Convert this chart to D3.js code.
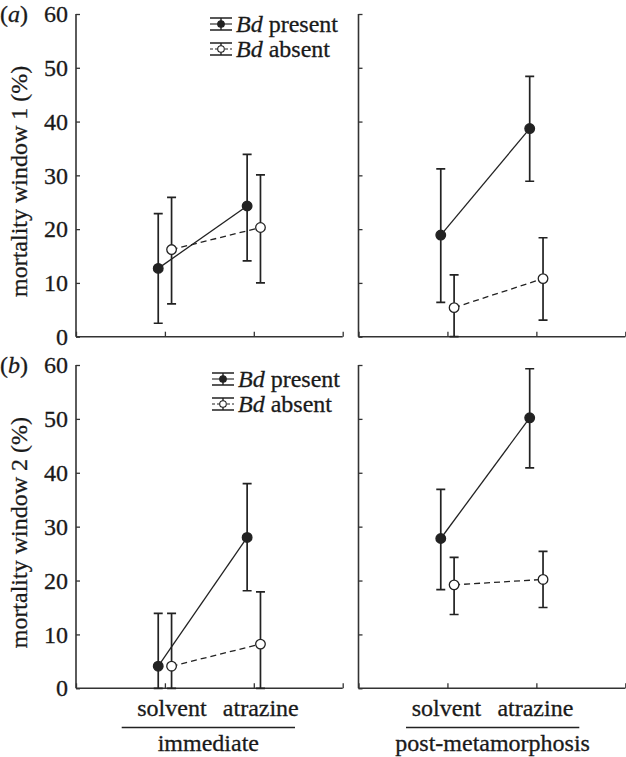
<!DOCTYPE html>
<html>
<head>
<meta charset="utf-8">
<script src="https://cdn.jsdelivr.net/npm/d3@7"></script>
<style>
html,body{margin:0;padding:0;background:#fff;}
svg{display:block;}
text{font-family:"Liberation Serif","Times New Roman",serif;fill:#1a1a1a;stroke:#1a1a1a;stroke-width:0.3;}
</style>
</head>
<body>
<svg id="chart" width="626" height="757"></svg>
<script>
// ---- data ----
const treatments = ["solvent", "atrazine"];
const timings = ["immediate", "post-metamorphosis"];
const panelLabels = ["(a)", "(b)"];
const yLabels = ["mortality window 1 (%)", "mortality window 2 (%)"];
const yTicks = [0, 10, 20, 30, 40, 50, 60];
const seriesNames = ["Bd present", "Bd absent"];
// order: [immediate solvent, immediate atrazine, post solvent, post atrazine]
const w1PresentMean = [12.7, 24.3, 18.9, 38.7];
const w1PresentLow  = [2.5, 14.1, 6.4, 28.9];
const w1PresentHigh = [22.9, 33.9, 31.2, 48.4];
const w1AbsentMean  = [16.2, 20.3, 5.4, 10.8];
const w1AbsentLow   = [6.1, 10.0, 0.0, 3.1];
const w1AbsentHigh  = [25.9, 30.1, 11.5, 18.4];
const w2PresentMean = [4.1, 28.0, 27.8, 50.2];
const w2PresentLow  = [0.0, 18.1, 18.3, 40.9];
const w2PresentHigh = [13.9, 38.0, 36.9, 59.3];
const w2AbsentMean  = [4.1, 8.2, 19.2, 20.2];
const w2AbsentLow   = [0.0, 0.0, 13.7, 15.0];
const w2AbsentHigh  = [13.9, 17.9, 24.3, 25.4];

const rows = [
  {present:{m:w1PresentMean,lo:w1PresentLow,hi:w1PresentHigh}, absent:{m:w1AbsentMean,lo:w1AbsentLow,hi:w1AbsentHigh}},
  {present:{m:w2PresentMean,lo:w2PresentLow,hi:w2PresentHigh}, absent:{m:w2AbsentMean,lo:w2AbsentLow,hi:w2AbsentHigh}}
];

// ---- layout ----
const svg = d3.select("#chart");
const FS = 24;
const colX = [[76, 342.7], [358.5, 625.3]];
const rowY = [[336.7, 14], [688.3, 365]];
const legendPos = [{x: 210, y1: 24, y2: 49}, {x: 212, y1: 379, y2: 404}];
const off = 0.075;
const ink = "#222";
const axisInk = "#333";

rows.forEach((row, r) => {
  const y = d3.scaleLinear().domain([0, 60]).range(rowY[r]);
  timings.forEach((tm, c) => {
    const x = d3.scaleLinear().domain([0, 3]).range(colX[c]);
    const g = svg.append("g");
    // y axis (ticks inward)
    const yAx = d3.axisRight(y).tickValues(yTicks).tickSize(4).tickFormat("");
    const gy = g.append("g").attr("transform", `translate(${colX[c][0]},0)`).call(yAx);
    // x axis (ticks inward)
    const xAx = d3.axisTop(x).tickValues([0, 1, 2, 3]).tickSize(5).tickFormat("");
    const gx = g.append("g").attr("transform", `translate(0,${rowY[r][0]})`).call(xAx);
    [gy, gx].forEach(a => {
      a.select(".domain").attr("stroke", axisInk).attr("stroke-width", 1.6);
      a.selectAll(".tick line").attr("stroke", axisInk).attr("stroke-width", 1.3);
    });
    gy.select(".domain").attr("d", `M0,${rowY[r][0]}V${rowY[r][1]}`);
    gx.select(".domain").attr("d", `M${colX[c][0]},0H${colX[c][1]}`);
    if (c === 0) {
      g.selectAll(".ylab").data(yTicks).enter().append("text")
        .attr("x", 68).attr("y", d => y(d)).attr("dy", "0.34em")
        .attr("text-anchor", "end").attr("font-size", FS).text(d => d);
    }
    // series
    [["present", "none", ink, -off], ["absent", "6,4", "#fff", off]].forEach(([key, dash, fill, dx]) => {
      const s = row[key];
      const idx = [c * 2, c * 2 + 1];
      const pts = idx.map((k, i) => ({x: x(i + 1 + dx), m: y(s.m[k]), lo: y(s.lo[k]), hi: y(s.hi[k])}));
      g.append("path")
        .attr("d", d3.line().x(d => d.x).y(d => d.m)(pts))
        .attr("fill", "none").attr("stroke", ink).attr("stroke-width", 1.3)
        .attr("stroke-dasharray", dash);
      pts.forEach(p => {
        g.append("path")
          .attr("d", `M${p.x},${p.lo}V${p.hi}M${p.x - 4.5},${p.lo}H${p.x + 4.5}M${p.x - 4.5},${p.hi}H${p.x + 4.5}`)
          .attr("stroke", ink).attr("stroke-width", 1.7).attr("fill", "none");
        g.append("circle").attr("cx", p.x).attr("cy", p.m).attr("r", 4.8)
          .attr("fill", fill).attr("stroke", ink).attr("stroke-width", 1.3);
      });
    });
    // category labels (bottom row only)
    if (r === 1) {
      const labOff = c === 0 ? 7 : -1;
      g.selectAll(".xl").data(treatments).enter().append("text")
        .attr("x", (d, i) => x(i + 1) + labOff).attr("y", 716)
        .attr("text-anchor", "middle").attr("font-size", FS).text(d => d);
      const lineX = c === 0 ? [121.7, 295] : [406, 579.3];
      g.append("line").attr("x1", lineX[0]).attr("x2", lineX[1]).attr("y1", 727.5).attr("y2", 727.5)
        .attr("stroke", ink).attr("stroke-width", 1.5);
      g.append("text").attr("x", (lineX[0] + lineX[1]) / 2).attr("y", 751)
        .attr("text-anchor", "middle").attr("font-size", FS).text(tm);
    }
  });
  // panel label + y label
  svg.append("text").attr("x", 0).attr("y", rowY[r][1]).attr("dy", "0.34em")
    .attr("font-size", FS).text(panelLabels[r].slice(0, 1))
    .append("tspan").attr("font-style", "italic").text(panelLabels[r].slice(1, 2))
    .select(function () { return this.parentNode; })
    .append("tspan").text(")");
  svg.append("text")
    .attr("transform", `translate(27,${(rowY[r][0] + rowY[r][1]) / 2 + 6}) rotate(-90)`)
    .attr("text-anchor", "middle").attr("font-size", FS).text(yLabels[r]);
  // legend
  const L = legendPos[r];
  [[L.y1, "none", ink], [L.y2, "3,2", "#fff"]].forEach(([ly, dash, fill], i) => {
    const lg = svg.append("g");
    const cx = L.x + 11;
    lg.append("path").attr("d", `M${L.x},${ly - 6}H${L.x + 22}M${L.x},${ly + 6}H${L.x + 22}M${cx},${ly - 6}V${ly + 6}`)
      .attr("stroke", ink).attr("stroke-width", 1.4).attr("fill", "none");
    lg.append("line").attr("x1", L.x).attr("x2", L.x + 22).attr("y1", ly).attr("y2", ly)
      .attr("stroke", ink).attr("stroke-width", 1.1).attr("stroke-dasharray", dash);
    lg.append("circle").attr("cx", cx).attr("cy", ly).attr("r", 3.3)
      .attr("fill", fill).attr("stroke", ink).attr("stroke-width", 1.1);
    const t = lg.append("text").attr("x", L.x + 26).attr("y", ly).attr("dy", "0.34em").attr("font-size", FS);
    t.append("tspan").attr("font-style", "italic").text(seriesNames[i].slice(0, 2));
    t.append("tspan").text(seriesNames[i].slice(2));
  });
});
</script>
</body>
</html>
